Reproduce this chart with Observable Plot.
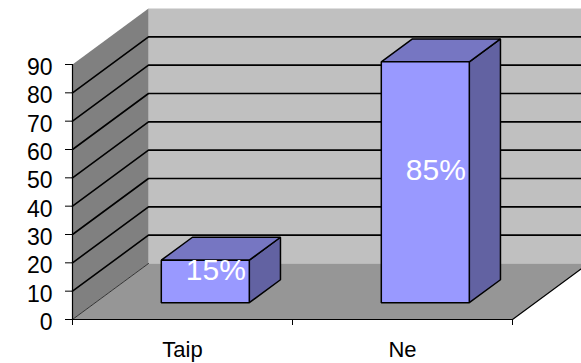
<!DOCTYPE html>
<html>
<head>
<meta charset="utf-8">
<script src="https://cdn.jsdelivr.net/npm/d3@7"></script>
<script src="https://cdn.jsdelivr.net/npm/@observablehq/plot@0.6"></script>
<style>
  html, body { margin: 0; padding: 0; background: #fff; overflow: hidden; }
  #chart svg { overflow: hidden; display: block; }
</style>
</head>
<body>
<div id="chart"></div>
<script>
// Survey answers
const categories = ["Taip", "Ne"];
const values = [15, 85];
const valueLabels = ["15%", "85%"];
const yTicks = [0, 10, 20, 30, 40, 50, 60, 70, 80, 90];

// Frame
const W = 581, H = 363;
const ml = 72, mr = 69, mt = 64, mb = 44;
const yMax = 90;

// Oblique 3D projection: the full depth of the box shifts right and up (in px)
const kx = (W - ml - mr) / categories.length;   // px per category unit
const ky = (H - mt - mb) / yMax;                 // px per value unit
const depthX = 76 / kx;
const depthY = 56 / ky;
const P = (x, y, d) => ({x: x + d * depthX, y: y + d * depthY});

// Bars occupy the middle 40% of each slot and part of the depth
const barHalf = 0.2;
const dFront = 0.30, dBack = 0.71;

const n = categories.length;

// Walls and floor
const backWall = [P(0, 0, 1), P(n + 0.2, 0, 1), P(n + 0.2, yMax, 1), P(0, yMax, 1)];
const sideWall = [P(0, 0, 0), P(0, yMax, 0), P(0, yMax, 1), P(0, 0, 1)];
const floor = [P(0, 0, 0), P(n, 0, 0), P(n, 0, 1), P(0, 0, 1)];

// Gridlines run across the side wall and then along the back wall
const gridPts = yTicks.filter(v => v > 0 && v < yMax).flatMap(v => [
  {...P(0, v, 0), g: v},
  {...P(0, v, 1), g: v},
  {...P(n + 0.2, v, 1), g: v}
]);

// Bar faces
const faces = {front: [], top: [], side: []};
values.forEach((v, i) => {
  const x1 = i + 0.5 - barHalf, x2 = i + 0.5 + barHalf;
  faces.side.push(...[P(x2, 0, dFront), P(x2, v, dFront), P(x2, v, dBack), P(x2, 0, dBack)].map(p => ({...p, k: i})));
  faces.top.push(...[P(x1, v, dFront), P(x2, v, dFront), P(x2, v, dBack), P(x1, v, dBack)].map(p => ({...p, k: i})));
  faces.front.push(...[P(x1, 0, dFront), P(x2, 0, dFront), P(x2, v, dFront), P(x1, v, dFront)].map(p => ({...p, k: i})));
});

// Value labels sit near the middle of each box
const dMid = (dFront + dBack) / 2;
const labelData = values.map((v, i) => ({...P(i + 0.5, v / 2, dMid), text: valueLabels[i]}));

const poly = (data, fill, extra = {}) =>
  Plot.line(data, {x: "x", y: "y", z: extra.z, fill, stroke: extra.stroke ?? "none",
    strokeWidth: extra.strokeWidth ?? 1.5, curve: "linear-closed", strokeLinejoin: "miter"});

const chart = Plot.plot({
  width: W,
  height: H,
  marginLeft: ml,
  marginRight: mr,
  marginTop: mt,
  marginBottom: mb,
  style: {fontFamily: "Arial, 'Liberation Sans', sans-serif", color: "#000", background: "#fff"},
  x: {domain: [0, n], axis: null},
  y: {domain: [0, yMax], axis: null},
  marks: [
    poly(backWall, "#c0c0c0"),
    poly(sideWall, "#808080"),
    poly(floor, "#969696"),
    Plot.line(gridPts, {x: "x", y: "y", z: "g", stroke: "#000", strokeWidth: 1.6}),
    // edges of the floor
    Plot.line([P(0, 0, 0), P(0, 0, 1)], {x: "x", y: "y", stroke: "#333", strokeWidth: 1}),
    Plot.line([P(n, 0, 0), P(n, 0, 1)], {x: "x", y: "y", stroke: "#000", strokeWidth: 1.2}),
    // bars
    poly(faces.side, "#6262a2", {z: "k", stroke: "#000"}),
    poly(faces.top, "#7676c2", {z: "k", stroke: "#000"}),
    poly(faces.front, "#9999ff", {z: "k", stroke: "#000"}),
    Plot.text(labelData, {x: "x", y: "y", text: "text", fill: "#fff", fontSize: 30, lineAnchor: "middle", dx: -5}),
    // axes
    Plot.ruleX([0], {y1: 0, y2: yMax, stroke: "#000", strokeWidth: 1.2}),
    Plot.ruleY([0], {x1: 0, x2: n, stroke: "#000", strokeWidth: 1.2}),
    Plot.axisY({ticks: yTicks, tickSize: 7, tickFormat: () => "", label: null}),
    Plot.text(yTicks, {x: 0, y: d => d, text: d => String(d), textAnchor: "end", lineAnchor: "middle",
      dx: -20, dy: 3, fontSize: 23, fill: "#000"}),
    Plot.axisX({ticks: d3.range(n + 1), tickSize: 6, tickFormat: () => "", label: null}),
    Plot.text(categories, {x: (c, i) => i + 0.5, y: 0, text: d => d, lineAnchor: "middle",
      dy: 30, fontSize: 22, fill: "#000"})
  ]
});

document.getElementById("chart").appendChild(chart);
</script>
</body>
</html>
